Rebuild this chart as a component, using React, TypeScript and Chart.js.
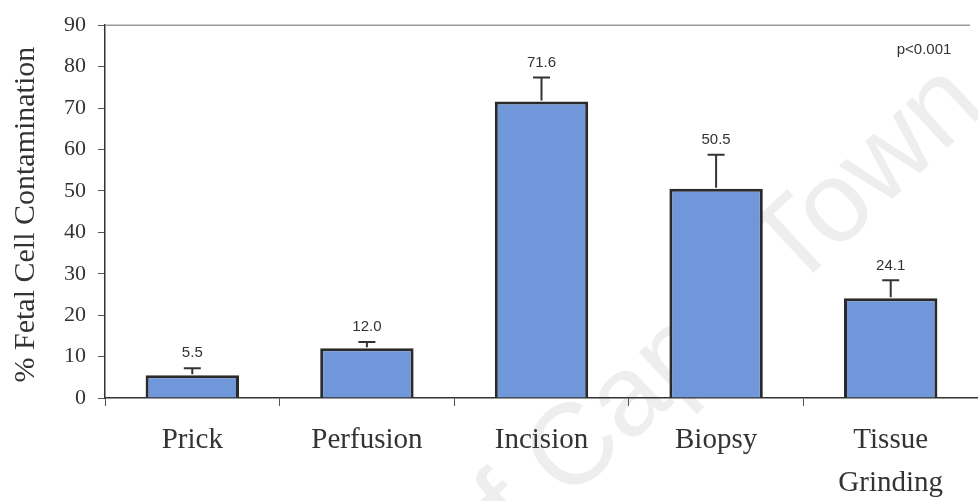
import { useEffect, useRef } from 'react';
import { Chart, registerables } from 'chart.js';

Chart.register(...registerables);

// Sampling methods and mean fetal cell contamination (%)
const CATEGORIES: string[][] = [['Prick'], ['Perfusion'], ['Incision'], ['Biopsy'], ['Tissue', 'Grinding']];
const MEANS: number[] = [5.5, 12.0, 71.6, 50.5, 24.1];
// Upper end of each error bar (%)
const ERROR_TOPS: number[] = [7.2, 13.5, 77.4, 58.7, 28.4];
const Y_TICKS: number[] = [0, 10, 20, 30, 40, 50, 60, 70, 80, 90];

const Y_TITLE = '% Fetal Cell Contamination';
const P_NOTE = 'p<0.001';
const WATERMARK = 'University of Cape Town';

const W = 978;
const H = 501;
const PLOT_LEFT = 105;
const PLOT_TOP = 19;
const PLOT_BOTTOM = 398;

const SERIF = '"Liberation Serif", "Times New Roman", serif';
const SANS = '"Liberation Sans", Arial, sans-serif';
const INK = '#333333';
const BAR_FILL = 'rgb(112, 151, 218)';
const BAR_EDGE = '#2a2a2a';

const decor = {
  id: 'decor',
  beforeDraw(chart: any) {
    const ctx = chart.ctx as CanvasRenderingContext2D;
    // faint diagonal watermark behind everything
    ctx.save();
    ctx.translate(988, 110);
    ctx.rotate((-43 * Math.PI) / 180);
    ctx.font = `115px ${SANS}`;
    ctx.fillStyle = '#eeeeee';
    ctx.textAlign = 'right';
    ctx.textBaseline = 'alphabetic';
    ctx.fillText(WATERMARK, 0, 0);
    ctx.restore();
  },
  afterDatasetsDraw(chart: any) {
    const ctx = chart.ctx as CanvasRenderingContext2D;
    const y = chart.scales.y;
    const meta = chart.getDatasetMeta(0);
    ctx.save();
    meta.data.forEach((bar: any, i: number) => {
      const top = y.getPixelForValue(ERROR_TOPS[i]);
      ctx.strokeStyle = INK;
      ctx.lineWidth = 2;
      ctx.beginPath();
      ctx.moveTo(bar.x, bar.y - 1);
      ctx.lineTo(bar.x, top);
      ctx.moveTo(bar.x - 8.5, top);
      ctx.lineTo(bar.x + 8.5, top);
      ctx.stroke();
      ctx.fillStyle = INK;
      ctx.font = `15px ${SANS}`;
      ctx.textAlign = 'center';
      ctx.textBaseline = 'middle';
      ctx.fillText(MEANS[i].toFixed(1), bar.x, top - 15);
    });
    ctx.restore();
  },
  afterDraw(chart: any) {
    const ctx = chart.ctx as CanvasRenderingContext2D;
    const area = chart.chartArea;
    ctx.save();
    // thin upper frame line
    ctx.strokeStyle = '#9a9a9a';
    ctx.lineWidth = 1.5;
    ctx.beginPath();
    ctx.moveTo(area.left, area.top);
    ctx.lineTo(970, area.top);
    ctx.stroke();
    // y axis title
    ctx.fillStyle = INK;
    ctx.font = `30px ${SERIF}`;
    ctx.textAlign = 'center';
    ctx.textBaseline = 'middle';
    ctx.translate(26, (area.top + area.bottom) / 2 + 3);
    ctx.rotate(-Math.PI / 2);
    ctx.fillText(Y_TITLE, 0, 0);
    ctx.restore();
    // significance note
    ctx.save();
    ctx.fillStyle = INK;
    ctx.font = `15px ${SANS}`;
    ctx.textAlign = 'center';
    ctx.textBaseline = 'middle';
    ctx.fillText(P_NOTE, 924, 50);
    ctx.restore();
  },
};

export default function App() {
  const ref = useRef<HTMLCanvasElement>(null);

  useEffect(() => {
    const canvas = ref.current;
    if (!canvas) return;
    const chart = new Chart(canvas, {
      type: 'bar',
      data: {
        labels: CATEGORIES,
        datasets: [
          {
            data: MEANS,
            backgroundColor: BAR_FILL,
            borderColor: BAR_EDGE,
            borderWidth: 3,
            borderSkipped: 'bottom',
            barPercentage: 0.535,
            categoryPercentage: 1,
          },
        ],
      },
      options: {
        responsive: false,
        devicePixelRatio: 1,
        animation: false,
        layout: { padding: { top: PLOT_TOP, left: 0, right: 0, bottom: 0 } },
        plugins: { legend: { display: false }, tooltip: { enabled: false } },
        scales: {
          x: {
            grid: { offset: true, drawOnChartArea: false, drawTicks: true, tickLength: 8, color: '#555', lineWidth: 1 },
            border: { display: true, color: INK, width: 1.5 },
            ticks: {
              font: { family: SERIF, size: 29, lineHeight: 1.48 },
              color: INK,
              padding: 13,
              maxRotation: 0,
              autoSkip: false,
            },
            afterFit: (s: any) => {
              s.height = H - PLOT_BOTTOM;
            },
          },
          y: {
            min: Y_TICKS[0],
            max: Y_TICKS[Y_TICKS.length - 1],
            afterBuildTicks: (s: any) => {
              s.ticks = Y_TICKS.map((v) => ({ value: v }));
            },
            ticks: { font: { family: SERIF, size: 22 }, color: INK, padding: 12 },
            grid: { drawOnChartArea: false, drawTicks: true, tickLength: 7, color: '#555' },
            border: { display: true, color: INK, width: 1.5 },
            afterFit: (s: any) => {
              s.width = PLOT_LEFT;
            },
          },
        },
      },
      plugins: [decor],
    } as any);
    return () => chart.destroy();
  }, []);

  return (
    <div style={{ position: 'fixed', left: 0, top: 0, width: W, height: H, background: '#fff' }}>
      <canvas ref={ref} width={W} height={H} style={{ width: W, height: H, display: 'block' }} />
    </div>
  );
}
